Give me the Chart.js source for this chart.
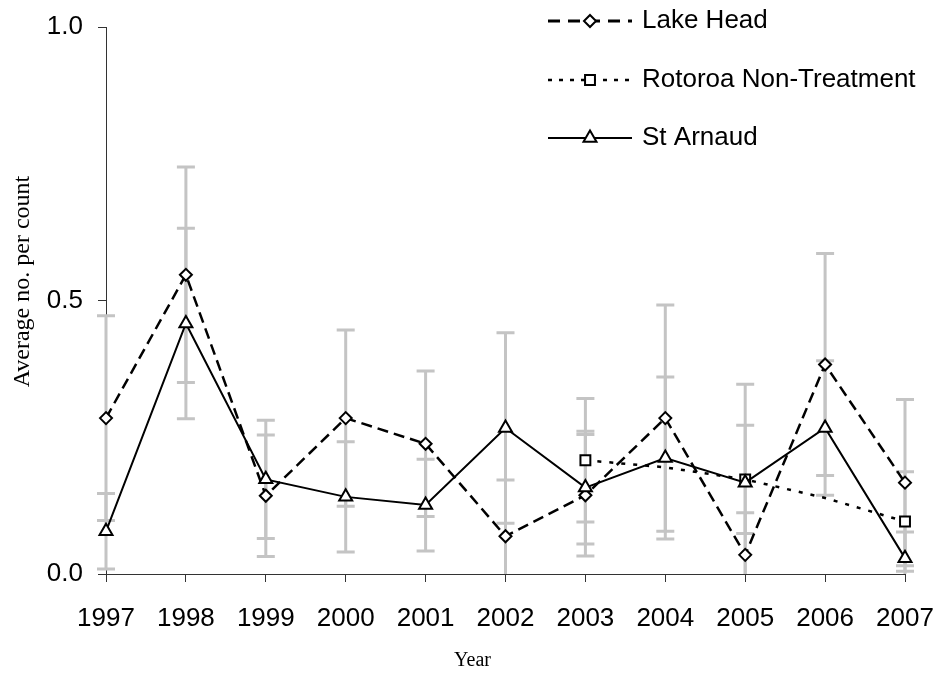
<!DOCTYPE html>
<html>
<head>
<meta charset="utf-8">
<script src="https://cdn.jsdelivr.net/npm/chart.js@4/dist/chart.umd.min.js"></script>
<style>
  html, body { margin: 0; padding: 0; background: #fff; }
  canvas { display: block; }
</style>
</head>
<body>
<canvas id="c" width="937" height="675"></canvas>
<script>
// ---- data ----
const years = ['1997','1998','1999','2000','2001','2002','2003','2004','2005','2006','2007'];
const lakeHead      = [0.285, 0.547, 0.143, 0.285, 0.238, 0.069, 0.144, 0.285, 0.035, 0.383, 0.167];
const lakeHeadErr   = [0.187, 0.197, 0.111, 0.161, 0.133, 0.103, 0.111, 0.207, 0.077, 0.203, 0.152];
const rotoroa       = [null, null, null, null, null, null, 0.208, 0.195, 0.173, 0.139, 0.096];
const rotoroaErr    = [null, null, null, null, null, null, 0.113, 0, 0.099, 0, 0.091];
const rotoroaMarker = [0, 0, 0, 0, 0, 0, 1, 0, 1, 0, 1];
const stArnaud      = [0.078, 0.458, 0.173, 0.141, 0.126, 0.267, 0.158, 0.212, 0.167, 0.267, 0.029];
const stArnaudErr   = [0.069, 0.174, 0.108, 0.101, 0.084, 0.174, 0.103, 0.148, 0.180, 0.123, 0.048];
const yTicks = [0, 0.5, 1.0];
const seriesNames = ['Lake Head', 'Rotoroa Non-Treatment', 'St Arnaud'];
const xTitle = 'Year';
const yTitle = 'Average no. per count';

const SANS = "'Liberation Sans', Arial, sans-serif";
const SERIF = "'Liberation Serif', 'Times New Roman', serif";

function drawMarker(ctx, style, r, x, y) {
  ctx.beginPath();
  if (style === 'rectRot') {
    ctx.moveTo(x, y - r); ctx.lineTo(x + r, y); ctx.lineTo(x, y + r); ctx.lineTo(x - r, y);
  } else if (style === 'rect') {
    const s = r * Math.SQRT1_2;
    ctx.rect(x - s, y - s, 2 * s, 2 * s);
  } else if (style === 'triangle') {
    const a = -Math.PI / 2;
    for (let k = 0; k < 3; k++) {
      const ang = a + k * 2 * Math.PI / 3;
      const px = x + Math.cos(ang) * r, py = y + Math.sin(ang) * r;
      if (k === 0) ctx.moveTo(px, py); else ctx.lineTo(px, py);
    }
  }
  ctx.closePath();
  ctx.fillStyle = '#fff';
  ctx.fill();
  ctx.setLineDash([]);
  ctx.lineWidth = 2;
  ctx.strokeStyle = '#000';
  ctx.stroke();
}

const errorBarPlugin = {
  id: 'errorBars',
  beforeDatasetsDraw(chart, args, opts) {
    const ctx = chart.ctx;
    const ys = chart.scales.y, xs = chart.scales.x;
    ctx.save();
    ctx.strokeStyle = opts.color;
    ctx.lineWidth = opts.width;
    ctx.setLineDash([]);
    chart.data.datasets.forEach((ds) => {
      const errs = ds.errors;
      if (!errs) return;
      ds.data.forEach((v, j) => {
        const e = errs[j];
        if (v === null || e === null || !e) return;
        const x = xs.getPixelForValue(j);
        const hiV = Math.min(v + e, ys.max), loV = Math.max(v - e, ys.min);
        const yHi = ys.getPixelForValue(hiV), yLo = ys.getPixelForValue(loV);
        ctx.beginPath();
        ctx.moveTo(x, yHi); ctx.lineTo(x, yLo);
        if (v + e <= ys.max) { ctx.moveTo(x - opts.cap, yHi); ctx.lineTo(x + opts.cap, yHi); }
        if (v - e >= ys.min) { ctx.moveTo(x - opts.cap, yLo); ctx.lineTo(x + opts.cap, yLo); }
        ctx.stroke();
      });
    });
    ctx.restore();
  }
};

const legendPlugin = {
  id: 'lineLegend',
  afterDraw(chart, args, opts) {
    const ctx = chart.ctx;
    ctx.save();
    chart.data.datasets.forEach((ds, i) => {
      const y = opts.rows[i];
      ctx.beginPath();
      ctx.setLineDash(opts.dash[i]);
      ctx.lineWidth = opts.lineWidth[i];
      ctx.strokeStyle = '#000';
      ctx.moveTo(opts.x0, y); ctx.lineTo(opts.x1, y);
      ctx.stroke();
      drawMarker(ctx, ds.pointStyle, opts.radius[i], (opts.x0 + opts.x1) / 2, y);
      ctx.fillStyle = '#000';
      ctx.font = opts.font;
      ctx.textAlign = 'left';
      ctx.textBaseline = 'middle';
      ctx.fillText(ds.label, opts.textX, y);
    });
    ctx.restore();
  }
};

// axis titles placed as in the reference (slightly off-centre)
const axisTitlePlugin = {
  id: 'axisTitles',
  afterDraw(chart, args, opts) {
    const ctx = chart.ctx, ca = chart.chartArea;
    ctx.save();
    ctx.fillStyle = '#000';
    ctx.textAlign = 'center';
    ctx.textBaseline = 'middle';
    ctx.font = opts.xFont;
    ctx.fillText(opts.xText, (ca.left + ca.right) / 2 + opts.xShift, opts.xY);
    ctx.translate(opts.yX, (ca.top + ca.bottom) / 2 + opts.yShift);
    ctx.rotate(-Math.PI / 2);
    ctx.font = opts.yFont;
    ctx.fillText(opts.yText, 0, 0);
    ctx.restore();
  }
};

new Chart(document.getElementById('c'), {
  type: 'line',
  data: {
    labels: years,
    datasets: [
      {
        label: seriesNames[0], data: lakeHead, errors: lakeHeadErr, order: 3,
        borderColor: '#000', borderWidth: 2.5, borderDash: [11, 6],
        pointStyle: 'rectRot', pointRadius: 6, pointBorderWidth: 2,
        pointBackgroundColor: '#fff', pointBorderColor: '#000', tension: 0, fill: false
      },
      {
        label: seriesNames[1], data: rotoroa, errors: rotoroaErr, order: 2,
        borderColor: '#000', borderWidth: 2.5, borderDash: [4, 8],
        pointStyle: 'rect', pointRadius: rotoroaMarker.map(m => m ? 7 : 0), pointBorderWidth: 2,
        pointBackgroundColor: '#fff', pointBorderColor: '#000', tension: 0, fill: false, spanGaps: false
      },
      {
        label: seriesNames[2], data: stArnaud, errors: stArnaudErr, order: 1,
        borderColor: '#000', borderWidth: 2, borderDash: [],
        pointStyle: 'triangle', pointRadius: 7.5, pointBorderWidth: 2,
        pointBackgroundColor: '#fff', pointBorderColor: '#000', tension: 0, fill: false
      }
    ]
  },
  options: {
    responsive: false,
    devicePixelRatio: 1,
    animation: false,
    layout: { padding: { left: 0, right: 32, top: 27, bottom: 0 } },
    plugins: {
      legend: { display: false },
      tooltip: { enabled: false },
      errorBars: { color: '#c4c4c4', width: 3, cap: 9 },
      lineLegend: {
        x0: 548, x1: 632, textX: 642, rows: [21, 80, 138], radius: [6, 7, 7.5],
        dash: [[12, 8], [4, 7], []], lineWidth: [3, 2.5, 2],
        font: '26px ' + SANS
      },
      axisTitles: {
        xText: xTitle, xFont: '20px ' + SERIF, xShift: -33, xY: 661,
        yText: yTitle, yFont: '24px ' + SERIF, yX: 23, yShift: -19
      }
    },
    scales: {
      x: {
        type: 'category',
        offset: false,
        grid: { display: true, drawOnChartArea: false, drawTicks: true, tickLength: 8, color: '#333' },
        border: { display: true, color: '#333', width: 1 },
        ticks: { color: '#000', font: { family: SANS, size: 26 }, padding: 21, maxRotation: 0, autoSkip: false },
        title: { display: false, text: xTitle },
        afterFit(s) { s.height = 101; s.paddingLeft = 0; s.paddingRight = 0; }
      },
      y: {
        min: 0, max: 1,
        afterBuildTicks(s) { s.ticks = yTicks.map(v => ({ value: v })); },
        grid: { display: true, drawOnChartArea: false, drawTicks: true, tickLength: 8, color: '#333' },
        border: { display: true, color: '#333', width: 1 },
        ticks: { color: '#000', font: { family: SANS, size: 26 }, padding: 15, callback: v => Number(v).toFixed(1) },
        title: { display: false, text: yTitle },
        afterFit(s) { s.width = 106; s.paddingTop = 0; s.paddingBottom = 0; }
      }
    }
  },
  plugins: [errorBarPlugin, legendPlugin, axisTitlePlugin]
});
</script>
</body>
</html>
